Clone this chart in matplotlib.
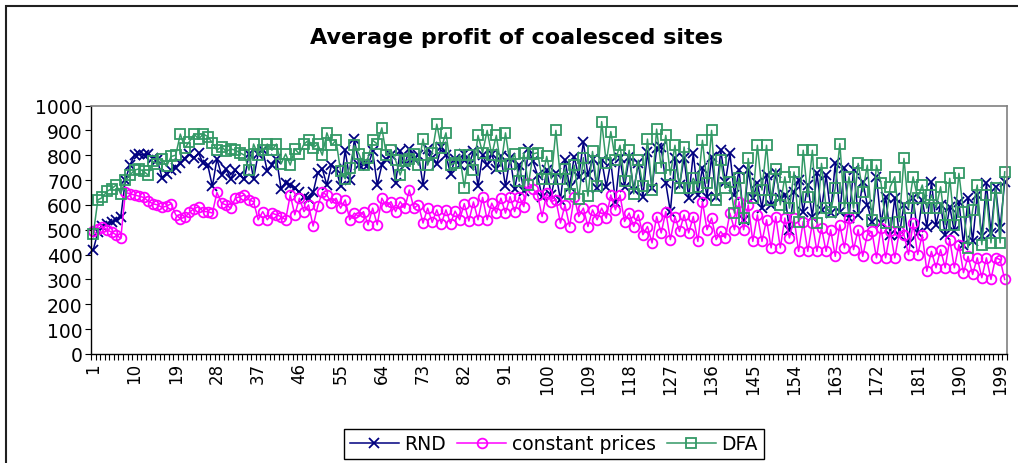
import matplotlib.pyplot as plt
from matplotlib.patches import Rectangle

plt.rcParams['font.family'] = ['DejaVu Sans']

# simulation step 1..200
steps = list(range(1, 201))

rnd = [
    420, 490, 515, 525, 530, 540, 550, 700, 760, 800,
    805, 800, 805, 790, 780, 710, 725, 740, 750, 770,
    785, 805, 790,
    807, 767, 760, 675, 785, 720, 745,
    705, 740, 720, 705, 805, 705, 805, 820, 735, 760,
    785, 665, 690, 680, 670, 650, 630, 625,
    650, 730,
    745, 680, 760, 745, 675, 820, 700, 865, 760, 765,
    760, 815, 680, 760, 785, 800, 690, 815, 760, 825,
    785, 800, 680, 825, 790,
    765, 835, 800, 725, 785, 760, 805, 760, 815, 675,
    800, 760, 805, 745, 795, 675, 790, 665, 760, 655,
    825, 775, 720, 630,
    740, 640, 727, 620, 780, 673, 793, 713, 853, 720, 785,
    667, 780, 673, 773, 613, 787, 673, 793, 660, 767, 633, 813, 667,
    827, 833, 687, 573, 787, 680, 790, 627, 807, 640, 747, 633, 793,
    633, 820, 693, 807, 640, 740, 540, 740, 627, 687, 587, 720,
    600, 727, 627, 640, 500, 653, 700, 573, 680, 553, 727,
    580, 720, 567, 767, 573, 747, 547, 740, 560, 693, 600,
    533, 713, 527, 633, 480, 627, 480, 600, 447, 627,
    487, 620, 513, 693, 520, 600, 480, 593, 493, 613,
    440, 627, 453, 640, 473, 687, 487, 673, 507, 693,
]

const_prices = [
    495, 505, 510, 500, 490, 480, 465, 650, 645, 640,
    635, 630, 615, 605, 600, 590, 595, 605, 560, 545,
    550, 570, 585,
    593, 573, 573, 567, 650, 607, 600, 587, 627, 633, 640, 620, 613,
    540, 573, 540, 567, 560, 553, 540, 640, 560, 627, 573, 600, 515, 595,
    650, 640, 607, 627, 587, 620, 540, 567, 553, 573, 520,
    587, 520, 627, 593, 613, 573, 613, 587, 660, 587, 600,
    527, 587, 530,
    580, 525, 580, 525, 575, 540, 605, 535, 612, 540,
    630, 540, 607, 567, 627, 567, 633, 573, 633, 593,
    690, 665, 640, 553, 647,
    613, 620, 527, 600, 513, 633, 553, 587, 513, 580, 540, 587,
    547, 640, 580, 640, 533, 567, 513, 560, 480, 513, 447,
    553, 487, 573, 460, 553, 493, 560, 487, 553, 453, 613, 500, 547,
    460, 493, 467, 567, 500, 613, 500, 600, 453, 560, 453, 540,
    427, 553, 427, 547, 467, 547, 413, 533, 413, 527, 413,
    507, 413, 500, 393, 520, 427, 547, 420, 500, 393, 480,
    493, 387, 507, 387, 493, 387, 493, 480, 400, 527,
    400, 480, 333, 413, 347, 420, 347, 460, 347, 440,
    327, 393, 320, 387, 307, 387, 300, 387, 380, 300,
]

dfa = [
    483, 620, 630, 655, 665, 680, 645, 700, 720, 740,
    745, 735, 720, 775, 765, 785, 755, 795, 800, 885,
    830, 855, 885, 865, 885,
    875, 850, 820, 835, 815, 825, 820, 810, 800, 740,
    845, 800, 820, 845, 820, 845, 765, 805, 760, 825,
    805, 845, 860, 830, 845,
    800, 890, 840, 860, 735, 705, 750, 840, 805, 760,
    790, 860, 845, 910, 800, 820, 780, 720, 775, 785,
    805, 760, 865, 760, 810,
    925, 830, 890, 760, 770, 800, 670, 800, 740, 880,
    810, 900, 800, 880, 755, 890, 765, 805, 695, 810,
    680, 805, 810, 705, 795,
    705, 900, 705, 745, 645, 760, 625, 790, 635, 815, 675, 935,
    770, 895, 780, 840, 695, 820, 645, 780, 675, 865, 660,
    905, 750, 880, 720, 840, 667, 833, 667, 707, 673, 860, 687, 900,
    620, 780, 667, 693, 567, 707, 547, 787, 627, 840, 660, 840,
    620, 745, 600, 713, 587, 733, 533, 820, 633, 820, 527,
    767, 587, 573, 667, 847, 587, 713, 587, 767, 653, 760,
    540, 760, 687, 527, 673, 713, 533, 787, 587, 713,
    627, 680, 587, 640, 587, 673, 520, 707, 520, 727,
    573, 427, 580, 680, 440, 640, 447, 667, 447, 733,
]

x_tick_labels = ['1', '10', '19', '28', '37', '46', '55', '64', '73', '82', '91',
                 '100', '109', '118', '127', '136', '145', '154', '163', '172',
                 '181', '190', '199']
y_ticks = [0, 100, 200, 300, 400, 500, 600, 700, 800, 900, 1000]

W, H = 1018, 464
fig = plt.figure(figsize=(W / 100, H / 100), dpi=100)
ax = fig.add_axes([91 / W, 1 - 355 / H, (1007 - 91) / W, (355 - 106.5) / H])

ax.plot(steps, rnd, color='#000080', marker='x', ms=6.5, mew=1.3, lw=1.1,
        label='RND', clip_on=False)
ax.plot(steps, const_prices, color='#ff00ff', marker='o', ms=7, mfc='none',
        mew=1.3, lw=1.1, label='constant prices', clip_on=False)
ax.plot(steps, dfa, color='#339966', marker='s', ms=7.5, mfc='none', mew=1.3,
        lw=1.1, label='DFA', clip_on=False)

ax.set_xlim(0.5, 200.5)
ax.set_ylim(0, 1000)
ax.set_yticks(y_ticks)
ax.set_xticks([int(t) for t in x_tick_labels])
ax.set_xticklabels(x_tick_labels, rotation=90)
ax.set_xticks([i + 0.5 for i in range(0, 201)], minor=True)
ax.tick_params(axis='x', which='major', length=0, pad=6, labelsize=12)
ax.tick_params(axis='x', which='minor', length=4, direction='out', width=0.8)
ax.tick_params(axis='y', length=4, width=0.8, labelsize=13.5, pad=2)

for side in ['top', 'right']:
    ax.spines[side].set_color('#808080')
    ax.spines[side].set_linewidth(1.2)
for side in ['left', 'bottom']:
    ax.spines[side].set_color('black')
    ax.spines[side].set_linewidth(1)

fig.text(517 / W, 1 - 38 / H, 'Average profit of coalesced sites',
         ha='center', va='center', fontsize=16, fontweight='bold')

fig.legend(loc='center', bbox_to_anchor=(554 / W, 1 - 445 / H), ncol=3,
           frameon=True, fancybox=False, edgecolor='black', framealpha=1,
           fontsize=13.5, handlelength=2.6, columnspacing=0.6,
           handletextpad=0.3, borderpad=0.3)

fig.patches.append(Rectangle((6 / W, -0.1), 1.2, 1.1 - 6.5 / H,
                             transform=fig.transFigure, fill=False,
                             edgecolor='#202020', lw=1.5))

fig.savefig('out.png', dpi=100)
